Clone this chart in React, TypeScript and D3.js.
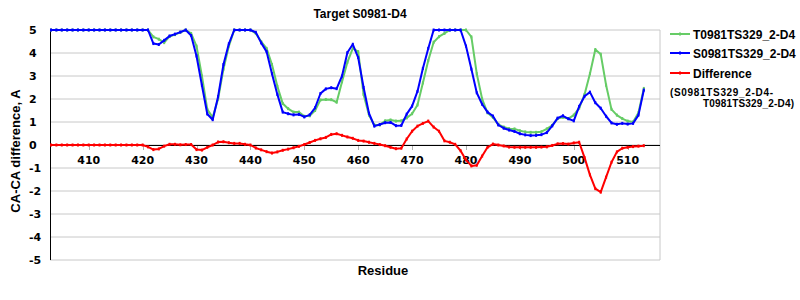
import React from "react";
import * as d3 from "d3";

const firstResidue = 403;

const targetValues = [
  5, 5, 5, 5, 5, 5, 5, 5, 5, 5, // 403-412
  5, 5, 5, 5, 5, 5, 5, 5, 5, // 413-421
  4.7, 4.6, 4.45, 4.72, 4.8, 4.9, 5, 4.85, 4.3, 3.0, 1.55, 1.2, 2.0, 3.3, 4.3, 5, // 422-437
  5, 5, 5, 4.85, 4.5, 4.2, 3.5, 2.55, 1.8, 1.58, 1.43, 1.43, 1.25, 1.27, 1.5, 1.96, 1.98, 1.97, 1.86, // 438-456
  2.75, 3.6, 4.2, 4.06, 2.2, 1.3, 0.87, 0.87, 1.05, 1.09, 1.04, 1.05, 1.18, 1.36, 1.74, 2.7, 3.67, 4.47, 4.71, 4.85, // 457-476
  5, 5, 5, 5, 4.7, 3.1, 2.0, 1.4, 1.2, 0.9, 0.78, 0.71, 0.7, 0.62, 0.57, 0.55, 0.55, 0.58, 0.7, 0.85, // 477-496
  1.15, 1.21, 1.15, 1.3, 1.6, 2.2, 3.1, 4.15, 3.95, 2.6, 1.55, 1.3, 1.15, 1.04, 1.0, 1.4, 2.46, // 497-513
];

const modelValues = [
  5, 5, 5, 5, 5, 5, 5, 5, 5, 5, // 403-412
  5, 5, 5, 5, 5, 5, 5, 5, 5, // 413-421
  4.41, 4.37, 4.55, 4.74, 4.82, 4.91, 5, 4.76, 3.87, 2.6, 1.35, 1.1, 2.1, 3.5, 4.4, 5, // 422-437
  5, 5, 5, 4.9, 4.44, 4.06, 3.1, 2.2, 1.43, 1.36, 1.31, 1.33, 1.22, 1.31, 1.62, 2.24, 2.44, 2.49, 2.45, // 438-456
  3.0, 4.02, 4.38, 3.8, 2.5, 1.38, 0.82, 0.89, 0.97, 0.98, 0.84, 0.85, 1.34, 1.69, 2.33, 3.33, 4.2, 5, 5, 5, // 457-476
  5, 5, 5, 4.3, 3.3, 2.27, 1.77, 1.43, 1.26, 0.87, 0.73, 0.65, 0.59, 0.49, 0.44, 0.41, 0.42, 0.45, 0.54, 0.83, // 477-496
  1.17, 1.27, 1.14, 1.05, 1.68, 2.12, 2.3, 1.84, 1.6, 1.25, 0.96, 0.9, 0.94, 0.91, 0.94, 1.3, 2.39, // 497-513
];

const differenceValues = [
  0, 0, 0, 0, 0, 0, 0, 0, 0, 0, // 403-412
  0, 0, 0, 0, 0, 0, 0, 0, -0.08, // 413-421
  -0.2, -0.17, -0.05, 0.03, 0.03, 0.01, 0.02, 0.02, -0.2, -0.22, -0.1, 0.0, 0.13, 0.14, 0.1, 0.07, // 422-437
  0.07, 0.03, 0, -0.13, -0.21, -0.29, -0.35, -0.3, -0.23, -0.18, -0.12, -0.06, 0.02, 0.11, 0.2, 0.27, 0.33, 0.46, 0.49, // 438-456
  0.42, 0.35, 0.29, 0.2, 0.17, 0.12, 0.07, 0.02, -0.03, -0.1, -0.16, -0.14, 0.26, 0.6, 0.82, 0.94, 1.04, 0.78, 0.6, 0.18, // 457-476
  0.12, 0.03, -0.25, -0.65, -0.91, -0.88, -0.48, -0.1, 0.04, 0.0, -0.04, -0.09, -0.1, -0.1, -0.1, -0.1, -0.1, -0.09, -0.08, -0.02, // 477-496
  0.05, 0.06, 0.04, 0.09, 0.12, -0.55, -1.3, -1.9, -2.05, -1.4, -0.75, -0.3, -0.14, -0.1, -0.07, -0.05, -0.03, // 497-513
];

const xTicks = [410, 420, 430, 440, 450, 460, 470, 480, 490, 500, 510];
const yTicks = [5, 4, 3, 2, 1, 0, -1, -2, -3, -4, -5];

const titleText = "Target S0981-D4";
const xTitle = "Residue";
const yTitle = "CA-CA difference, A";
const legendTarget = "T0981TS329_2-D4";
const legendModel = "S0981TS329_2-D4";
const legendDiff = "Difference";
const legendDiff2 = "(S0981TS329_2-D4-";
const legendDiff3 = "T0981TS329_2-D4)";

const GREEN = "#66cc66";
const BLUE = "#0000ff";
const RED = "#ff0000";

export default function App() {
  const left = 50;
  const right = 660;
  const top = 30;
  const bottom = 260;

  const x = d3.scaleLinear().domain([403, 516]).range([51, 660]);
  const y = d3.scaleLinear().domain([-5, 5]).range([bottom, top]);

  const toPts = (vals: number[]) =>
    vals.map((v, i) => [firstResidue + i, v] as [number, number]);

  const line = d3
    .line<[number, number]>()
    .x((d) => x(d[0]))
    .y((d) => y(d[1]));

  const series = [
    { vals: targetValues, color: GREEN },
    { vals: modelValues, color: BLUE },
    { vals: differenceValues, color: RED },
  ];

  const font = "'Liberation Sans', Arial, sans-serif";
  const tickFont = "'DejaVu Sans', Verdana, sans-serif";

  return (
    <svg
      width={800}
      height={300}
      style={{ position: "absolute", left: 0, top: 0, background: "#fff" }}
    >
      <rect x={0} y={0} width={800} height={300} fill="#fff" />
      {yTicks.map((t) => (
        <line
          key={"g" + t}
          x1={left}
          x2={right}
          y1={y(t)}
          y2={y(t)}
          stroke="#c8c8c8"
          strokeWidth={1}
        />
      ))}
      <line x1={right} x2={right} y1={top} y2={bottom} stroke="#c8c8c8" />
      {xTicks.map((t) => (
        <line
          key={"xt" + t}
          x1={Math.round(x(t)) + 0.5}
          x2={Math.round(x(t)) + 0.5}
          y1={y(0)}
          y2={y(0) + 5}
          stroke="#b0b0b0"
        />
      ))}
      <line x1={left + 0.5} x2={left + 0.5} y1={top} y2={bottom} stroke="#000" />
      <line x1={left} x2={right} y1={y(0) + 0.5} y2={y(0) + 0.5} stroke="#000" />
      {xTicks.map((t) => (
        <text
          key={"xl" + t}
          x={x(t)}
          y={y(0) + 19}
          textAnchor="middle"
          fontFamily={tickFont}
          fontWeight="bold"
          fontSize={11}
          fill="#000"
        >
          {t}
        </text>
      ))}
      {yTicks.map((t) => (
        <text
          key={"yl" + t}
          x={29}
          y={y(t) + 4}
          textAnchor="start"
          fontFamily={tickFont}
          fontWeight="bold"
          fontSize={11}
          fill="#000"
        >
          {t < 0 ? "-" + Math.abs(t) : String(t)}
        </text>
      ))}
      {series.map((s, si) => {
        const pts = toPts(s.vals);
        return (
          <g key={"s" + si}>
            <path
              d={line(pts) || ""}
              fill="none"
              stroke={s.color}
              strokeWidth={2}
              strokeLinejoin="round"
            />
            {pts.map((p, i) => (
              <rect
                key={i}
                x={x(p[0]) - 1}
                y={y(p[1]) - 1.5}
                width={2}
                height={3}
                fill={s.color}
              />
            ))}
          </g>
        );
      })}
      <text
        x={360}
        y={18}
        textAnchor="middle"
        fontFamily={font}
        fontWeight="bold"
        fontSize={12}
        fill="#000"
      >
        {titleText}
      </text>
      <text
        x={383}
        y={275}
        textAnchor="middle"
        fontFamily={font}
        fontWeight="bold"
        fontSize={13}
        fill="#000"
      >
        {xTitle}
      </text>
      <text
        transform="translate(20,151) rotate(-90)"
        textAnchor="middle"
        fontFamily={font}
        fontWeight="bold"
        fontSize={13}
        fill="#000"
      >
        {yTitle}
      </text>
      {[
        { c: GREEN, yy: 34, label: legendTarget },
        { c: BLUE, yy: 53, label: legendModel },
        { c: RED, yy: 73, label: legendDiff },
      ].map((l, i) => (
        <g key={"lg" + i}>
          <line x1={670} x2={690} y1={l.yy} y2={l.yy} stroke={l.c} strokeWidth={2} />
          <rect x={679} y={l.yy - 1.5} width={2} height={3} fill={l.c} />
          <text
            x={693}
            y={l.yy + 4.5}
            fontFamily={font}
            fontWeight="bold"
            fontSize={12}
            fill="#000"
          >
            {l.label}
          </text>
        </g>
      ))}
      <text
        x={670}
        y={95.5}
        fontFamily={font}
        fontWeight="bold"
        fontSize={10}
        textLength={103}
        lengthAdjust="spacing"
        fill="#000"
      >
        {legendDiff2}
      </text>
      <text
        x={703}
        y={107}
        fontFamily={font}
        fontWeight="bold"
        fontSize={10}
        textLength={91}
        lengthAdjust="spacing"
        fill="#000"
      >
        {legendDiff3}
      </text>
    </svg>
  );
}
